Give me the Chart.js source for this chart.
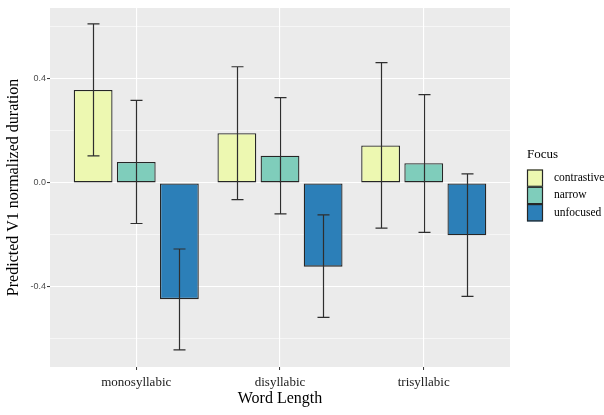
<!DOCTYPE html>
<html>
<head>
<meta charset="utf-8">
<script src="https://cdn.jsdelivr.net/npm/chart.js@4/dist/chart.umd.min.js"></script>
<style>
  html, body { margin: 0; padding: 0; background: #ffffff; }
  #wrap { width: 604px; height: 415px; }
</style>
</head>
<body>
<div id="wrap"><canvas id="c" width="604" height="415"></canvas></div>
<script>
// Word length categories, placed at positions 1..3 on the x axis
const categories = ['monosyllabic', 'disyllabic', 'trisyllabic'];
const categoryPos = [1, 2, 3];

// Focus levels
const focusLevels = ['contrastive', 'narrow', 'unfocused'];
const focusColors = ['#EDF8B1', '#7FCDBB', '#2C7FB8'];

// Predicted V1 normalized duration (estimate per word length)
const contrastive = [0.358, 0.191, 0.144];
const narrow      = [0.081, 0.105, 0.076];
const unfocused   = [-0.447, -0.322, -0.201];

// Confidence interval bounds
const contrastiveLow  = [0.104, -0.064, -0.174];
const contrastiveHigh = [0.612, 0.447, 0.463];
const narrowLow       = [-0.156, -0.119, -0.190];
const narrowHigh      = [0.318, 0.328, 0.340];
const unfocusedLow    = [-0.642, -0.517, -0.436];
const unfocusedHigh   = [-0.254, -0.123, 0.035];

// Y axis ticks: labelled majors and unlabelled minors
const yMajorTicks = [-0.4, 0.0, 0.4];
const yMinorTicks = [-0.6, -0.2, 0.2, 0.6];
const yLimits = [-0.708, 0.673];
const xLimits = [0.4, 3.6];

const seriesValues = [contrastive, narrow, unfocused];
const seriesLow = [contrastiveLow, narrowLow, unfocusedLow];
const seriesHigh = [contrastiveHigh, narrowHigh, unfocusedHigh];

const SERIF = '"Liberation Serif", "Times New Roman", serif';
const SANS = '"Liberation Sans", Arial, sans-serif';

const datasets = focusLevels.map((name, i) => ({
  label: name,
  data: categoryPos.map((x, j) => ({ x: x, y: seriesValues[i][j], lo: seriesLow[i][j], hi: seriesHigh[i][j] })),
  backgroundColor: focusColors[i],
  borderColor: '#262626',
  borderWidth: 1.3,
  borderSkipped: false,
  categoryPercentage: 0.9,
  barPercentage: 0.9
}));

// Grey panel behind the plot area
const panelBackground = {
  id: 'panelBackground',
  beforeDraw(chart) {
    const { ctx, chartArea: a } = chart;
    ctx.save();
    ctx.fillStyle = '#EBEBEB';
    ctx.fillRect(a.left, a.top, a.right - a.left, a.bottom - a.top);
    ctx.restore();
  }
};

// Error bars with caps, drawn on top of the bars
const errorBars = {
  id: 'errorBars',
  afterDatasetsDraw(chart) {
    const { ctx } = chart;
    const yScale = chart.scales.y;
    const capHalf = 6;
    ctx.save();
    ctx.strokeStyle = '#2E2E2E';
    ctx.lineWidth = 1.2;
    chart.data.datasets.forEach((ds, i) => {
      const meta = chart.getDatasetMeta(i);
      meta.data.forEach((bar, j) => {
        const pt = ds.data[j];
        const x = Math.round(bar.x) + 0.5;
        const yHi = yScale.getPixelForValue(pt.hi);
        const yLo = yScale.getPixelForValue(pt.lo);
        ctx.beginPath();
        ctx.moveTo(x, yHi); ctx.lineTo(x, yLo);
        ctx.moveTo(x - capHalf, yHi); ctx.lineTo(x + capHalf, yHi);
        ctx.moveTo(x - capHalf, yLo); ctx.lineTo(x + capHalf, yLo);
        ctx.stroke();
      });
    });
    ctx.restore();
  }
};

// Legend block on the right: title plus stacked colour keys
const focusLegend = {
  id: 'focusLegend',
  afterDraw(chart) {
    const { ctx } = chart;
    const left = 527, keyW = 16, keyH = 17.3, top = 169.5;
    ctx.save();
    ctx.fillStyle = '#000000';
    ctx.font = '13px ' + SERIF;
    ctx.textBaseline = 'middle';
    ctx.textAlign = 'left';
    ctx.fillText('Focus', left, 155);
    ctx.font = '11.5px ' + SERIF;
    chart.data.datasets.forEach((ds, i) => {
      const y = top + i * keyH;
      ctx.fillStyle = ds.backgroundColor;
      ctx.fillRect(left, y, keyW, keyH);
      ctx.strokeStyle = '#262626';
      ctx.lineWidth = 1.2;
      ctx.strokeRect(left + 0.5, y + 0.5, keyW - 1, keyH - 1);
      ctx.fillStyle = '#000000';
      ctx.fillText(ds.label, 554, y + keyH / 2);
    });
    ctx.restore();
  }
};

const isMajor = v => yMajorTicks.some(t => Math.abs(t - v) < 1e-9);

new Chart(document.getElementById('c'), {
  type: 'bar',
  data: { datasets },
  plugins: [panelBackground, errorBars, focusLegend],
  options: {
    responsive: false,
    animation: false,
    layout: { padding: { top: 8, right: 94, left: 0, bottom: 0 } },
    plugins: {
      legend: { display: false },
      tooltip: { enabled: false }
    },
    scales: {
      x: {
        type: 'linear',
        min: xLimits[0],
        max: xLimits[1],
        offset: false,
        afterBuildTicks(scale) { scale.ticks = categoryPos.map(v => ({ value: v })); },
        afterFit(scale) { scale.height = 48; },
        grid: {
          offset: false,
          color: '#FFFFFF',
          lineWidth: 1.1,
          tickColor: '#333333',
          tickLength: 3,
          tickWidth: 1
        },
        border: { display: false },
        ticks: {
          padding: 5,
          color: '#1A1A1A',
          font: { family: SERIF, size: 13 },
          callback: v => categories[categoryPos.indexOf(v)] ?? ''
        },
        title: {
          display: true,
          text: 'Word Length',
          color: '#000000',
          font: { family: SERIF, size: 16 },
          padding: { top: 0, bottom: 7 }
        }
      },
      y: {
        type: 'linear',
        min: yLimits[0],
        max: yLimits[1],
        afterBuildTicks(scale) {
          scale.ticks = yMajorTicks.concat(yMinorTicks).sort((a, b) => a - b).map(v => ({ value: v }));
        },
        afterFit(scale) { scale.width = 50; },
        grid: {
          color: '#FFFFFF',
          lineWidth: ctx => isMajor(ctx.tick.value) ? 1.1 : 0.55,
          tickColor: ctx => isMajor(ctx.tick.value) ? '#333333' : 'rgba(0,0,0,0)',
          tickLength: 3,
          tickWidth: 1
        },
        border: { display: false },
        ticks: {
          padding: 1,
          color: '#4D4D4D',
          font: { family: SANS, size: 9 },
          callback: v => isMajor(v) ? (Math.abs(v) < 1e-9 ? '0.0' : v.toFixed(1)) : ''
        },
        title: {
          display: true,
          text: 'Predicted V1 normalized duration',
          color: '#000000',
          font: { family: SERIF, size: 16 },
          padding: { top: 4, bottom: 0 }
        }
      }
    }
  }
});
</script>
</body>
</html>
